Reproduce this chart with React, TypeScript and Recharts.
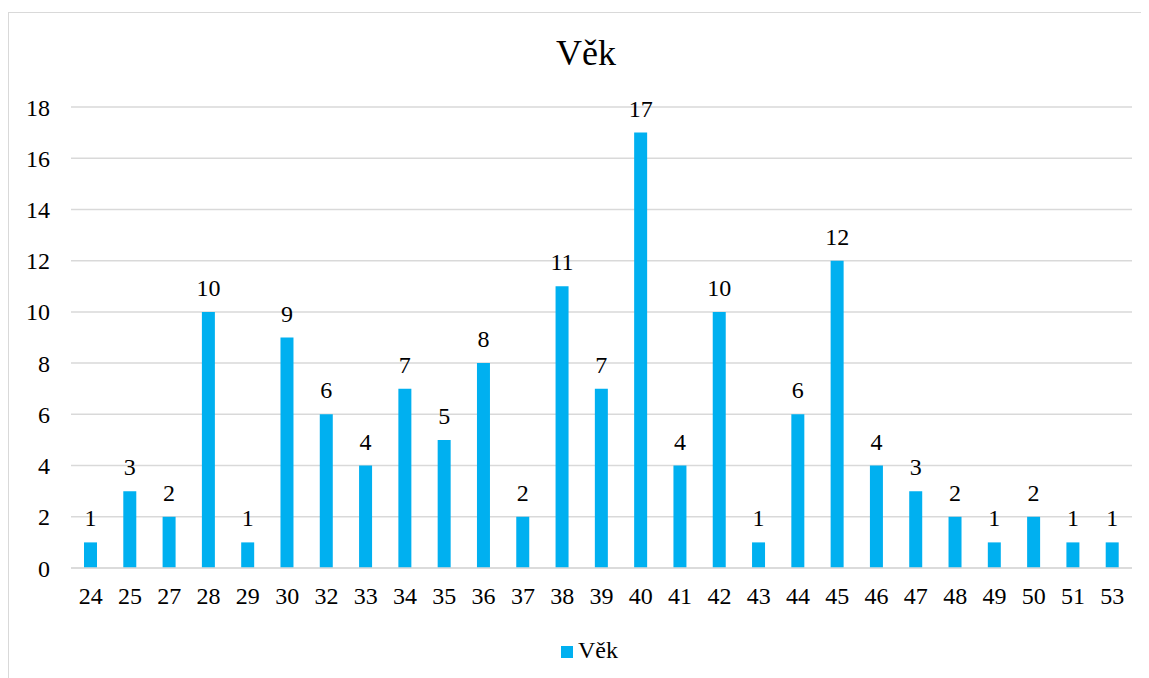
import React from "react";
import { BarChart, Bar, XAxis, YAxis, CartesianGrid, Legend, LabelList } from "recharts";

const categories = ["24","25","27","28","29","30","32","33","34","35","36","37","38","39","40","41","42","43","44","45","46","47","48","49","50","51","53"];
const counts = [1,3,2,10,1,9,6,4,7,5,8,2,11,7,17,4,10,1,6,12,4,3,2,1,2,1,1];
const yTicks = [0,2,4,6,8,10,12,14,16,18];
const seriesName = "Věk";
const title = "Věk";

const data = categories.map((c, i) => ({ age: c, value: counts[i] }));

const FONT = "Liberation Serif, Times New Roman, Tinos, DejaVu Serif, serif";
const COLOR = "#00B0F0";

const LegendContent = () => (
  <div style={{ display: "flex", alignItems: "center", fontFamily: FONT, fontSize: 24, lineHeight: "24px", color: "#000" }}>
    <span style={{ display: "inline-block", width: 12, height: 12, background: COLOR, marginRight: 5, marginTop: 4 }} />
    <span>{seriesName}</span>
  </div>
);

export default function App() {
  return (
    <div style={{ position: "relative", width: 1141, height: 670, overflow: "hidden", background: "#fff" }}>
      <div style={{ position: "absolute", left: 0, top: 4, width: 1170, height: 700, border: "1px solid #d9d9d9", boxSizing: "border-box" }} />
      <div style={{ position: "absolute", left: 0, top: 28, width: 1156, textAlign: "center", fontFamily: FONT, fontSize: 36, lineHeight: "35px", color: "#000" }}>
        {title}
      </div>
      <div style={{ position: "absolute", left: 0, top: 0 }}>
        <BarChart width={1141} height={670} data={data} margin={{ top: 99, right: 17, left: 0, bottom: 70 }}>
          <CartesianGrid vertical={false} stroke="#d9d9d9" strokeWidth={1.5} />
          <XAxis
            dataKey="age"
            height={40}
            tickLine={false}
            axisLine={{ stroke: "#d9d9d9", strokeWidth: 1.5 }}
            tickSize={0}
            tickMargin={19}
            interval={0}
            tick={{ fill: "#000", fontSize: 24, fontFamily: FONT }}
          />
          <YAxis
            width={63}
            domain={[0, 18]}
            ticks={yTicks}
            interval={0}
            tickLine={false}
            axisLine={false}
            tickSize={0}
            tickMargin={21}
            tick={{ fill: "#000", fontSize: 24, fontFamily: FONT }}
          />
          <Legend
            layout="horizontal"
            verticalAlign="middle"
            align="center"
            content={<LegendContent />}
            wrapperStyle={{ top: 630, left: 553, width: 120, height: 30 }}
          />
          <Bar dataKey="value" name={seriesName} fill={COLOR} barSize={13} isAnimationActive={false}>
            <LabelList dataKey="value" position="top" offset={16} fill="#000" fontSize={24} fontFamily={FONT} />
          </Bar>
        </BarChart>
      </div>
    </div>
  );
}
